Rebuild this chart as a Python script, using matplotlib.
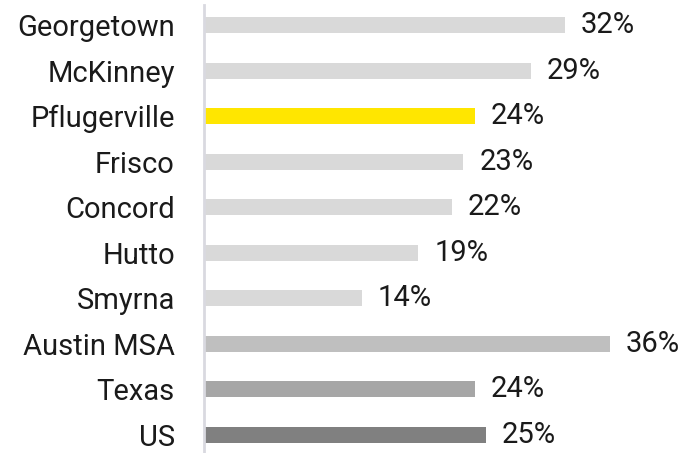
import matplotlib.pyplot as plt

plt.rcParams['font.family'] = ['Roboto', 'DejaVu Sans']

# data
places = ['Georgetown', 'McKinney', 'Pflugerville', 'Frisco', 'Concord',
          'Hutto', 'Smyrna', 'Austin MSA', 'Texas', 'US']
growth = [32, 29, 24, 23, 22, 19, 14, 36, 24, 25]
colors = ['#d9d9d9', '#d9d9d9', '#ffe600', '#d9d9d9', '#d9d9d9',
          '#d9d9d9', '#d9d9d9', '#bfbfbf', '#a6a6a6', '#808080']

fig = plt.figure(figsize=(6.94, 4.53), dpi=100)
ax = fig.add_axes([0.294, 0.0, 0.65, 1 - 5 / 453])

y = range(len(places))
ax.barh(y, growth, height=0.35, color=colors)

for i, v in enumerate(growth):
    ax.text(v + 1.4, i, f'{v}%', va='center', ha='left', fontsize=21, color='#1a1a1a')

ax.set_yticks(list(y))
ax.set_yticklabels(places, fontsize=21, color='#1a1a1a')
ax.tick_params(axis='y', length=0, pad=21)
ax.set_xticks([])
ax.set_xlim(0, 40)
ax.set_ylim(len(places) - 0.6, -0.44)

for s in ['top', 'right', 'bottom']:
    ax.spines[s].set_visible(False)
ax.spines['left'].set_color('#d9d9e0')
ax.spines['left'].set_linewidth(2)

fig.savefig('out.png', dpi=100)
